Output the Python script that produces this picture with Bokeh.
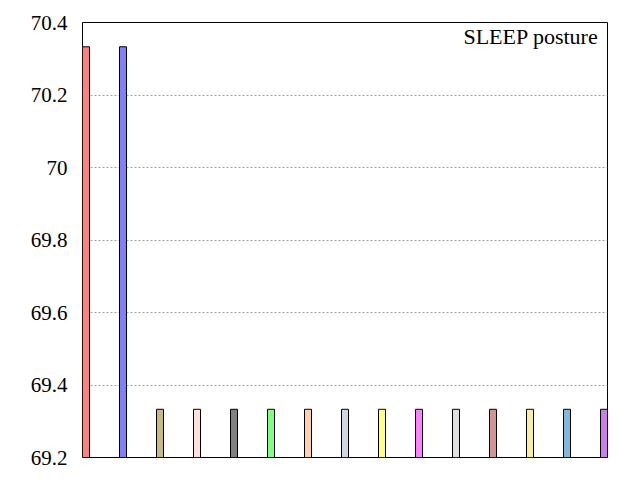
from bokeh.plotting import figure
from bokeh.models import Range1d, FixedTicker, Label, ColumnDataSource
from bokeh.embed import file_html
from bokeh.resources import INLINE

categories = ["c1", "c2", "c3", "c4", "c5", "c6", "c7", "c8", "c9", "c10",
              "c11", "c12", "c13", "c14", "c15"]
values = [70.333, 70.333, 69.333, 69.333, 69.333, 69.333, 69.333, 69.333,
          69.333, 69.333, 69.333, 69.333, 69.333, 69.333, 69.333]
colors = ["#ff8080", "#8080ff", "#c8b882", "#ffe0e0", "#808080", "#80ff80",
          "#ffd0b0", "#d0d8e4", "#ffff80", "#ff80ff", "#e0e0e0", "#d49494",
          "#f8f0a0", "#80b8e0", "#c880e8"]
y_ticks = [69.2, 69.4, 69.6, 69.8, 70.0, 70.2, 70.4]
y_tick_labels = ["69.2", "69.4", "69.6", "69.8", "70", "70.2", "70.4"]
title_text = "SLEEP posture"

bar_w = 7 / 37
xs = list(range(len(categories)))
src = ColumnDataSource(dict(x=xs, top=values, color=colors))

p = figure(width=640, height=480, output_backend="svg", toolbar_location=None,
           x_range=Range1d(-bar_w / 2, xs[-1] + bar_w / 2),
           y_range=Range1d(y_ticks[0], y_ticks[-1]),
           min_border_left=82, min_border_right=33,
           min_border_top=22, min_border_bottom=23)
p.background_fill_color = "white"
p.border_fill_color = "white"
p.outline_line_color = "black"
p.outline_line_width = 1
p.outline_line_alpha = 1

p.vbar(x="x", top="top", bottom=y_ticks[0], width=bar_w, fill_color="color",
       line_color="black", line_width=1, source=src)

p.xaxis.visible = False
p.xgrid.visible = False

p.yaxis.ticker = FixedTicker(ticks=y_ticks)
p.yaxis.major_label_overrides = {t: l for t, l in zip(y_ticks, y_tick_labels)}
p.yaxis.major_tick_out = 0
p.yaxis.major_tick_in = 0
p.yaxis.minor_tick_out = 0
p.yaxis.minor_tick_in = 0
p.yaxis.axis_line_color = None
p.yaxis.major_label_standoff = 15
p.yaxis.major_label_text_font = "Liberation Serif"
p.yaxis.major_label_text_font_size = "21px"
p.yaxis.major_label_text_color = "black"

p.ygrid.ticker = FixedTicker(ticks=y_ticks[1:-1])
p.ygrid.grid_line_color = "#a0a0a0"
p.ygrid.grid_line_dash = "2 2"
p.ygrid.grid_line_width = 1

lbl = Label(x=xs[-1] + bar_w / 2, y=y_ticks[-1], x_offset=-9, y_offset=-1,
            text=title_text, text_align="right", text_baseline="top",
            text_font="Liberation Serif", text_font_size="22px", text_color="black")
p.add_layout(lbl)

open("out.html", "w").write(file_html(p, INLINE))
